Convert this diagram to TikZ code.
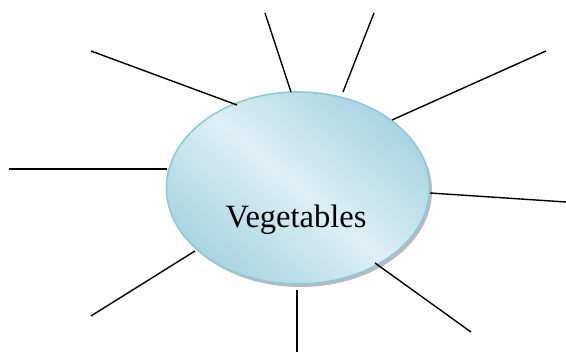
\documentclass[tikz,border=0pt]{standalone}
\usepackage{fontspec}
\setmainfont{Liberation Serif}
\usetikzlibrary{shapes.geometric,shadows}
\definecolor{elldark}{HTML}{A8D4E1}
\definecolor{elllight}{HTML}{DDEFF5}
\definecolor{ellborder}{HTML}{8CCADB}
\tikzset{
  spoke/.style={draw=black, line width=1.4pt},
  bubble/.style={ellipse, draw=ellborder, line width=1.6pt, minimum width=263pt, minimum height=192pt, inner sep=0pt,
    shading=axis, top color=elldark, bottom color=elldark, middle color=elllight, shading angle=-40,
    drop shadow={shadow xshift=2.5pt, shadow yshift=-3pt, fill=black!45, opacity=0.6}},
  label/.style={font=\fontsize{32.5}{37}\selectfont, text=black, inner sep=0pt}
}
\begin{document}
\begin{tikzpicture}[x=1pt,y=-1pt]
\useasboundingbox (0,0) rectangle (566,352);
\node[bubble] (veg) at (298,188) {};
\node[label] (txt) at (296,220) {Vegetables};
% outer ends
\coordinate (o1) at (91,51);
\coordinate (o2) at (265,13);
\coordinate (o3) at (374,13);
\coordinate (o4) at (546,51);
\coordinate (o5) at (9,169);
\coordinate (o6) at (566,202);
\coordinate (o7) at (91,316);
\coordinate (o8) at (297,352);
\coordinate (o9) at (471,332);
% inner ends on the ellipse
\coordinate (i1) at (237,105);
\coordinate (i2) at (291,92);
\coordinate (i3) at (343,92);
\coordinate (i4) at (392,120);
\coordinate (i5) at (167,169);
\coordinate (i6) at (430,193);
\coordinate (i7) at (195,251);
\coordinate (i8) at (297,290);
\coordinate (i9) at (375,263);
\foreach \k in {1,...,9} { \draw[spoke] (o\k) -- (i\k); }
\end{tikzpicture}
\end{document}
